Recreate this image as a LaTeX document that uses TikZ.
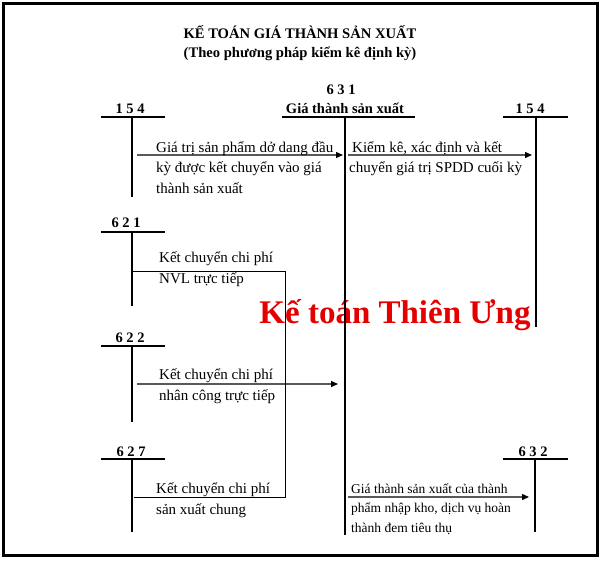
\documentclass[tikz,border=0pt]{standalone}
\usepackage{fontspec}
\setmainfont{Liberation Serif}
\usetikzlibrary{arrows.meta}
\begin{document}
\begin{tikzpicture}[x=1pt,y=-1pt,
    head/.style={font=\bfseries\fontsize{14.6}{17}\selectfont,inner sep=0pt,anchor=base},
    acct/.style={font=\bfseries\fontsize{14.5}{17}\selectfont,inner sep=0pt,anchor=base},
    tline/.style={line width=1.3pt},
    flow/.style={draw=black!65,line width=1.3pt,-{Triangle[length=7pt,width=6pt,color=black]}},
    link/.style={line width=1pt},
    note/.style={font=\fontsize{15}{20.5}\selectfont,align=left,inner sep=0pt,anchor=base west},
    small/.style={font=\fontsize{13.5}{19.5}\selectfont,align=left,inner sep=0pt,anchor=base west}
]
\useasboundingbox (0,0) rectangle (600,560);
\draw[line width=3pt] (3,3) rectangle (597,555);

% title
\node[head] (title)    at (300,38) {KẾ TOÁN GIÁ THÀNH SẢN XUẤT};
\node[head] (subtitle) at (300,57) {(Theo phương pháp kiểm kê định kỳ)};

% watermark
\node[font=\bfseries\fontsize{33}{36}\selectfont,text=red!90!black,inner sep=0pt] (mark) at (395,315) {Kế toán Thiên Ưng};

% accounts
\node[acct] (n631)  at (341,94)  {6 3 1};
\node[acct] (g631)  at (345,113) {Giá thành sản xuất};
\node[acct] (n154a) at (130,113) {1 5 4};
\node[acct] (n154b) at (530,113) {1 5 4};
\node[acct] (n621)  at (126,227) {6 2 1};
\node[acct] (n622)  at (130,342) {6 2 2};
\node[acct] (n627)  at (131,456) {6 2 7};
\node[acct] (n632)  at (533,456) {6 3 2};

\coordinate (a154L) at (101,117); \coordinate (a154R) at (165,117);
\coordinate (a154T) at (132,117); \coordinate (a154B) at (132,197);
\coordinate (b154L) at (503,117); \coordinate (b154R) at (568,117);
\coordinate (b154T) at (536,117); \coordinate (b154B) at (536,327);
\coordinate (c631L) at (282,117); \coordinate (c631R) at (415,117);
\coordinate (c631T) at (345,117); \coordinate (c631B) at (345,535);
\coordinate (c621L) at (101,232); \coordinate (c621R) at (165,232);
\coordinate (c621T) at (132,232); \coordinate (c621B) at (132,306);
\coordinate (c622L) at (101,346); \coordinate (c622R) at (165,346);
\coordinate (c622T) at (132,346); \coordinate (c622B) at (132,422);
\coordinate (c627L) at (101,459); \coordinate (c627R) at (165,459);
\coordinate (c627T) at (132,459); \coordinate (c627B) at (132,532);
\coordinate (c632L) at (503,459); \coordinate (c632R) at (568,459);
\coordinate (c632T) at (535,459); \coordinate (c632B) at (535,532);

\draw[tline] (a154L) -- (a154R) (a154T) -- (a154B);
\draw[tline] (b154L) -- (b154R) (b154T) -- (b154B);
\draw[tline] (c631L) -- (c631R);
\draw[line width=2.4pt] (c631T) -- (c631B);
\draw[tline] (c621L) -- (c621R) (c621T) -- (c621B);
\draw[tline] (c622L) -- (c622R) (c622T) -- (c622B);
\draw[tline] (c627L) -- (c627R) (c627T) -- (c627B);
\draw[tline] (c632L) -- (c632R) (c632T) -- (c632B);

% flows
\coordinate (s1) at (137,155); \coordinate (e1) at (343,155);
\coordinate (s2) at (348,155); \coordinate (e2) at (532,155);
\coordinate (s3) at (137,384); \coordinate (e3) at (338,384);
\coordinate (s4) at (348,497); \coordinate (e4) at (529,497);
\coordinate (k621) at (132,271); \coordinate (k627) at (134,497);
\coordinate (j621) at (285,271); \coordinate (j627) at (285,497);

\draw[flow] (s1) -- (e1);
\draw[flow] (s2) -- (e2);
\draw[flow] (s3) -- (e3);
\draw[flow] (s4) -- (e4);
\draw[link] (k621) -- (j621) -- (j627) -- (k627);

% texts (anchored at the last line)
\node[note] (t1) at (156,193) {Giá trị sản phẩm dở dang đầu\\kỳ được kết chuyển vào giá\\thành sản xuất};
\node[note] (t2) at (349,172.5) {\hspace{3pt}Kiểm kê, xác định và kết\\chuyển giá trị SPDD cuối kỳ};
\node[note] (t3) at (159,283) {Kết chuyển chi phí\\NVL trực tiếp};
\node[note] (t4) at (159,400) {Kết chuyển chi phí\\nhân công trực tiếp};
\node[note] (t5) at (156,514) {Kết chuyển chi phí\\sản xuất chung};
\node[small] (t6) at (351,532) {Giá thành sản xuất của thành\\phẩm nhập kho, dịch vụ hoàn\\thành đem tiêu thụ};
\end{tikzpicture}
\end{document}
